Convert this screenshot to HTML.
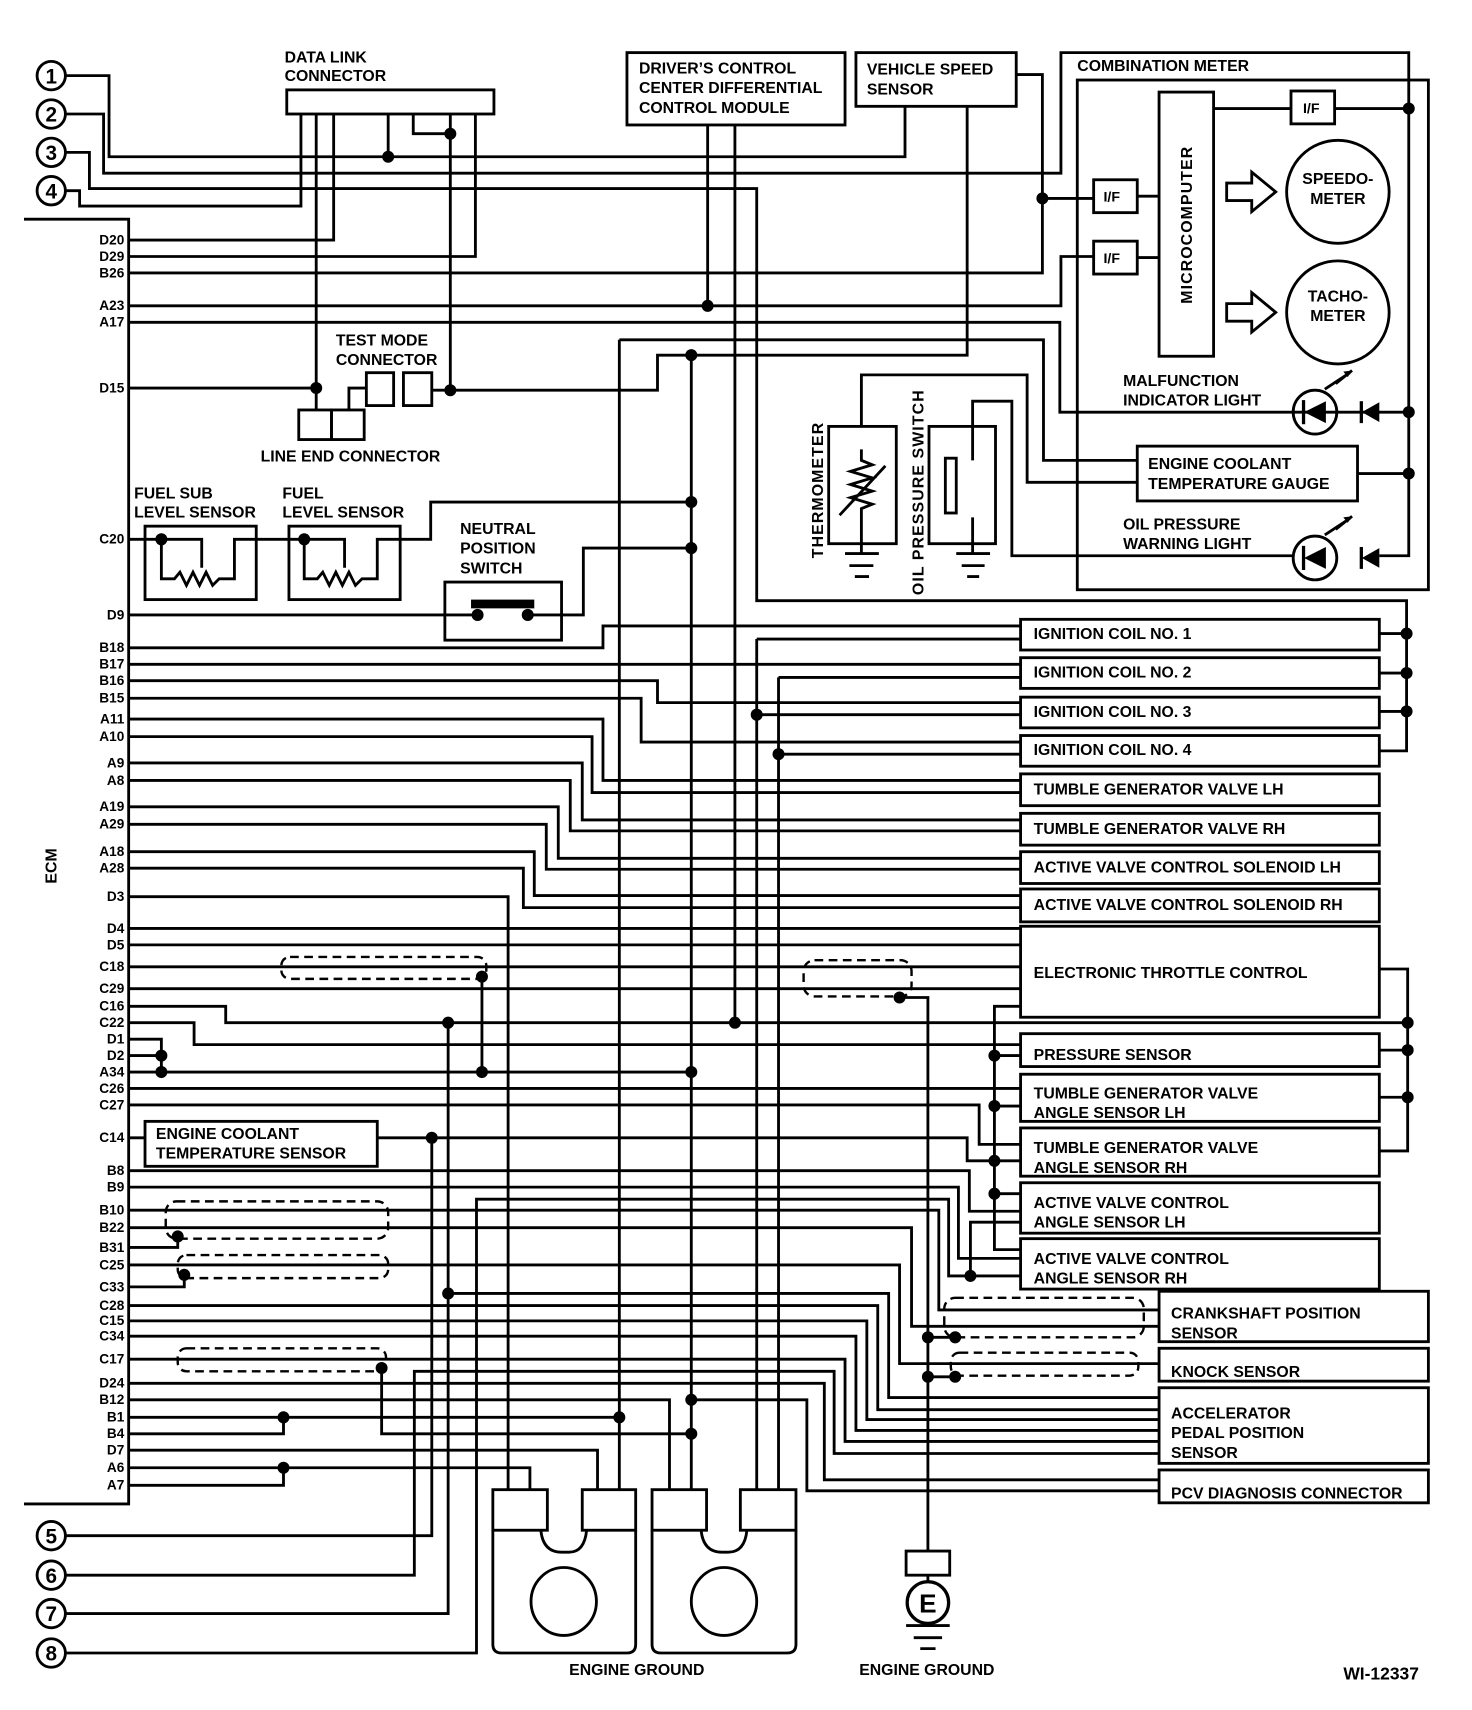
<!DOCTYPE html>
<html><head><meta charset="utf-8"><style>
html,body{margin:0;padding:0;background:#fff;}
svg{display:block;}
text{font-family:"Liberation Sans",Arial,sans-serif;font-weight:bold;fill:#000;}
</style></head><body>
<svg width="1472" height="1710" viewBox="0 0 1350 1560" preserveAspectRatio="none" xmlns="http://www.w3.org/2000/svg">
<rect width="1350" height="1560" fill="#fff"/>
<g fill="none" stroke="#000" stroke-width="2.6" stroke-linejoin="miter">
<path d="M22 200 H118 V1372 H22"/>
<path d="M60 69 H100 V143 H830 V97"/>
<path d="M60 104 H95 V158 H973 V48 H1292 V507 H1265"/>
<path d="M60 139 H82 V172 H694 V548 H1290 V685 H1265"/>
<path d="M60 174 H73 V188 H276 V104"/>
<rect x="263" y="82" width="190" height="22"/>
<path d="M118 219 H306 V104 M118 234 H436 V104 M290 104 V374 M356 104 V143 M379 104 V122 H413 M413 104 V356"/>
<path d="M118 249 H956 V68 H932 M956 181 H1003"/>
<path d="M118 279 H973 V234 H1003 M649 114 V279 M674 114 V933"/>
<path d="M118 294 H972 V376 H1292"/>
<path d="M118 354 H290 M413 356 H603 V324 H887 V97"/>
<rect x="336" y="340" width="25" height="30"/><rect x="370" y="340" width="26" height="30"/>
<path d="M396 356 H413 M336 354 H320 V374"/>
<rect x="274" y="374" width="30" height="27"/><rect x="304" y="374" width="30" height="27"/>
<rect x="575" y="48" width="200" height="66"/>
<rect x="785" y="48" width="147" height="49"/>
<rect x="988" y="73" width="322" height="465"/>
<rect x="1063" y="84" width="50" height="241"/>
<rect x="1184" y="83" width="40" height="30"/>
<rect x="1003" y="164" width="40" height="30"/>
<rect x="1003" y="220" width="40" height="30"/>
<path d="M1113 99 H1184 M1224 99 H1292 M1043 179 H1063 M1043 235 H1063"/>
<path d="M1125 167 H1148 V157 L1170 175 L1148 193 V183 H1125 Z M1125 277 H1148 V267 L1170 285 L1148 303 V293 H1125 Z"/>
<circle cx="1227" cy="175" r="47"/><circle cx="1227" cy="285" r="47"/>
<circle cx="1206" cy="376" r="20"/><circle cx="1206" cy="509" r="20"/>
<path d="M1215 355 L1238 340 M1225 350 L1240 338 M1215 488 L1238 473 M1225 483 L1240 471"/>
<rect x="1043" y="407" width="202" height="50"/>
<path d="M1245 432 H1292"/>
<rect x="760" y="389" width="62" height="107"/>
<rect x="852" y="389" width="61" height="107"/>
<path d="M790 389 V342 H942 V440 H1043 M790 496 V505 M775 505 H806 M779 516 H801 M784 526 H797"/>
<path d="M790 410 V420 L800 424 L780 430 L800 436 L780 442 L800 448 L780 454 L800 460 L790 464 V496 M770 470 L812 425"/>
<path d="M892 420 V366 H928 V507 H1186 M892 472 V505 M877 505 H908 M882 516 H903 M887 526 H898"/>
<rect x="867" y="418" width="10" height="50"/>
<path d="M568 310 H957 V420 H1043"/>
<rect x="133" y="480" width="102" height="67"/><rect x="265" y="480" width="102" height="67"/>
<path d="M118 492 H148 M148 492 H185 V518 M148 492 V528 H160 L165 522 L171 534 L177 522 L183 534 L189 522 L195 534 L201 528 H215 V492 H279 M279 492 H316 V518 M279 492 V528 H291 L296 522 L302 534 L308 522 L314 534 L320 522 L326 534 L332 528 H346 V492 H395 V458 H634"/>
<rect x="408" y="531" width="107" height="53"/>
<path d="M118 561 H438 M484 561 H535 V500 H634"/>
<path d="M568 310 V1359 M634 324 V1359 M694 583 V1359 M714 618 V1359"/>
<path d="M118 591 H553 V571 H936 M118 606 H936 M118 621 H603 V641 H936 M118 637 H588 V677 H936 M694 583 H936 M714 618 H936 M694 652 H936 M714 688 H936"/>
<path d="M118 656 H553 V712 H936 M118 672 H543 V723 H936 M118 696 H534 V748 H936 M118 712 H523 V758 H936 M118 736 H512 V783 H936 M118 752 H501 V793 H936 M118 777 H490 V817 H936 M118 792 H480 V828 H936"/>
<path d="M1265 578 H1290 M1265 614 H1290 M1265 649 H1290"/>
<path d="M118 818 H466 V1359 M118 847 H936 M118 862 H936 M118 882 H936 M118 902 H936"/>
<path d="M936 918 H912 V1140 H936 M912 963 H936 M912 1009 H936 M912 1059 H936 M912 1089 H936"/>
<path d="M1265 884 H1291 V1050 H1265 M1265 958 H1291 M1265 1001 H1291"/>
<path d="M118 918 H207 V933 H1291 M118 933 H178 V953 H936 M118 948 H148 V978 M118 963 H148 M118 978 H634 M442 891 V978"/>
<path d="M118 993 H936 M118 1008 H898 V1044 H936 M118 1038 H133 M346 1038 H887 V1059 H912 M396 1038 V1401 H60"/>
<path d="M118 1068 H889 V1105 H936 M118 1083 H879 V1148 H936 M60 1508 H437 V1094 H870 V1164 H936 M890 1164 V1115 H936"/>
<path d="M118 1104 H861 V1195 H1063 M118 1120 H836 V1210 H1063 M118 1138 H163 V1128 M118 1154 H825 V1244 H1063 M118 1174 H169 V1163"/>
<path d="M411 933 V1472 H60 M411 1180 H815 V1275 H1063 M118 1191 H805 V1286 H1063 M118 1205 H795 V1295 H1063 M118 1219 H785 V1305 H1063 M118 1240 H775 V1315 H1063"/>
<path d="M60 1437 H380 V1251 H765 V1326 H1063 M118 1262 H756 V1350 H1063 M118 1277 H614 V1359 M634 1277 H740 V1360 H1063"/>
<path d="M118 1293 H568 M118 1308 H260 V1293 M350 1248 V1308 H634 M118 1323 H548 V1359 M118 1339 H486 V1359 M118 1355 H260 V1339"/>
<path d="M825 910 H851 V1415 M851 1220 H876 M851 1256 H876"/>
<rect x="936" y="565" width="329" height="28"/><rect x="936" y="600" width="329" height="28"/>
<rect x="936" y="636" width="329" height="28"/><rect x="936" y="671" width="329" height="28"/>
<rect x="936" y="706" width="329" height="29"/><rect x="936" y="742" width="329" height="29"/>
<rect x="936" y="777" width="329" height="29"/><rect x="936" y="811" width="329" height="30"/>
<rect x="936" y="845" width="329" height="83"/><rect x="936" y="943" width="329" height="30"/>
<rect x="936" y="980" width="329" height="43"/><rect x="936" y="1029" width="329" height="44"/>
<rect x="936" y="1079" width="329" height="46"/><rect x="936" y="1130" width="329" height="46"/>
<rect x="1063" y="1178" width="247" height="46"/><rect x="1063" y="1230" width="247" height="30"/>
<rect x="1063" y="1266" width="247" height="69"/><rect x="1063" y="1341" width="247" height="30"/>
<rect x="133" y="1023" width="213" height="41"/>
<rect x="452" y="1359" width="50" height="37"/><rect x="534" y="1359" width="49" height="37"/>
<rect x="598" y="1359" width="50" height="37"/><rect x="679" y="1359" width="51" height="37"/>
<path d="M452 1396 V1500 Q452 1508 460 1508 H575 Q583 1508 583 1500 V1396 M496 1396 Q498 1416 515 1416 H522 Q536 1416 538 1396"/>
<path d="M598 1396 V1500 Q598 1508 606 1508 H722 Q730 1508 730 1500 V1396 M643 1396 Q645 1416 662 1416 H668 Q683 1416 685 1396"/>
<ellipse cx="517" cy="1461" rx="30" ry="31"/><ellipse cx="664" cy="1461" rx="30" ry="31"/>
<rect x="831" y="1415" width="40" height="22"/>
<circle cx="851" cy="1462" r="19" stroke-width="3"/>
<path d="M851 1437 V1443 M831 1483 H871 M838 1494 H864 M844 1504 H858"/>
<circle cx="47" cy="69" r="13"/><circle cx="47" cy="104" r="13"/><circle cx="47" cy="139" r="13"/><circle cx="47" cy="174" r="13"/>
<circle cx="47" cy="1401" r="13"/><circle cx="47" cy="1437" r="13"/><circle cx="47" cy="1472" r="13"/><circle cx="47" cy="1508" r="13"/>
</g>
<g fill="none" stroke="#000" stroke-width="2.2" stroke-dasharray="8 5">
<rect x="258" y="873" width="188" height="20" rx="8"/>
<rect x="737" y="876" width="99" height="33" rx="10"/>
<rect x="152" y="1096" width="204" height="34" rx="10"/>
<rect x="163" y="1145" width="193" height="21" rx="8"/>
<rect x="163" y="1230" width="191" height="21" rx="8"/>
<rect x="866" y="1184" width="183" height="36" rx="10"/>
<rect x="872" y="1234" width="172" height="21" rx="8"/>
</g>
<g fill="#000" stroke="none">
<path d="M1196 376 L1216 366 L1216 386 Z M1249 376 L1265 367 L1265 385 Z M1196 509 L1216 499 L1216 519 Z M1249 509 L1265 500 L1265 518 Z"/>
<rect x="1194" y="365" width="3" height="22"/><rect x="1247" y="366" width="3" height="20"/>
<rect x="1194" y="498" width="3" height="22"/><rect x="1247" y="499" width="3" height="20"/>
<rect x="432" y="547" width="58" height="8"/>
<path d="M1240 338 l-8 1 l4 5 Z M1240 471 l-8 1 l4 5 Z"/>
<circle cx="356" cy="143" r="5.5"/><circle cx="413" cy="122" r="5.5"/><circle cx="290" cy="354" r="5.5"/><circle cx="413" cy="356" r="5.5"/>
<circle cx="956" cy="181" r="5.5"/><circle cx="649" cy="279" r="5.5"/><circle cx="634" cy="324" r="5.5"/>
<circle cx="1292" cy="99" r="5.5"/><circle cx="1292" cy="376" r="5.5"/><circle cx="1292" cy="432" r="5.5"/>
<circle cx="148" cy="492" r="5.5"/><circle cx="279" cy="492" r="5.5"/><circle cx="634" cy="458" r="5.5"/><circle cx="634" cy="500" r="5.5"/>
<circle cx="438" cy="561" r="5.5"/><circle cx="484" cy="561" r="5.5"/>
<circle cx="1290" cy="578" r="5.5"/><circle cx="1290" cy="614" r="5.5"/><circle cx="1290" cy="649" r="5.5"/>
<circle cx="694" cy="652" r="5.5"/><circle cx="714" cy="688" r="5.5"/>
<circle cx="442" cy="891" r="5.5"/><circle cx="825" cy="910" r="5.5"/>
<circle cx="411" cy="933" r="5.5"/><circle cx="674" cy="933" r="5.5"/><circle cx="1291" cy="933" r="5.5"/>
<circle cx="1291" cy="958" r="5.5"/><circle cx="1291" cy="1001" r="5.5"/>
<circle cx="148" cy="963" r="5.5"/><circle cx="148" cy="978" r="5.5"/><circle cx="442" cy="978" r="5.5"/><circle cx="634" cy="978" r="5.5"/>
<circle cx="912" cy="963" r="5.5"/><circle cx="912" cy="1009" r="5.5"/><circle cx="912" cy="1059" r="5.5"/><circle cx="912" cy="1089" r="5.5"/>
<circle cx="396" cy="1038" r="5.5"/><circle cx="890" cy="1164" r="5.5"/>
<circle cx="163" cy="1128" r="5.5"/><circle cx="169" cy="1163" r="5.5"/><circle cx="411" cy="1180" r="5.5"/>
<circle cx="851" cy="1220" r="5.5"/><circle cx="876" cy="1220" r="5.5"/><circle cx="851" cy="1256" r="5.5"/><circle cx="876" cy="1256" r="5.5"/>
<circle cx="350" cy="1248" r="5.5"/><circle cx="634" cy="1277" r="5.5"/>
<circle cx="260" cy="1293" r="5.5"/><circle cx="568" cy="1293" r="5.5"/><circle cx="634" cy="1308" r="5.5"/><circle cx="260" cy="1339" r="5.5"/>
</g>
<g font-size="19" text-anchor="middle">
<text x="47" y="76">1</text><text x="47" y="111">2</text><text x="47" y="146">3</text><text x="47" y="181">4</text>
<text x="47" y="1408">5</text><text x="47" y="1444">6</text><text x="47" y="1479">7</text><text x="47" y="1515">8</text>
<text x="851" y="1471" font-size="24">E</text>
</g>
<g font-size="12.5" text-anchor="end">
<text x="114" y="223">D20</text><text x="114" y="238">D29</text><text x="114" y="253">B26</text><text x="114" y="283">A23</text><text x="114" y="298">A17</text>
<text x="114" y="358">D15</text><text x="114" y="496">C20</text><text x="114" y="565">D9</text>
<text x="114" y="595">B18</text><text x="114" y="610">B17</text><text x="114" y="625">B16</text><text x="114" y="641">B15</text>
<text x="114" y="660">A11</text><text x="114" y="676">A10</text><text x="114" y="700">A9</text><text x="114" y="716">A8</text>
<text x="114" y="740">A19</text><text x="114" y="756">A29</text><text x="114" y="781">A18</text><text x="114" y="796">A28</text>
<text x="114" y="822">D3</text><text x="114" y="851">D4</text><text x="114" y="866">D5</text><text x="114" y="886">C18</text>
<text x="114" y="906">C29</text><text x="114" y="922">C16</text><text x="114" y="937">C22</text><text x="114" y="952">D1</text>
<text x="114" y="967">D2</text><text x="114" y="982">A34</text><text x="114" y="997">C26</text><text x="114" y="1012">C27</text>
<text x="114" y="1042">C14</text><text x="114" y="1072">B8</text><text x="114" y="1087">B9</text><text x="114" y="1108">B10</text>
<text x="114" y="1124">B22</text><text x="114" y="1142">B31</text><text x="114" y="1158">C25</text><text x="114" y="1178">C33</text>
<text x="114" y="1195">C28</text><text x="114" y="1209">C15</text><text x="114" y="1223">C34</text><text x="114" y="1244">C17</text>
<text x="114" y="1266">D24</text><text x="114" y="1281">B12</text><text x="114" y="1297">B1</text><text x="114" y="1312">B4</text>
<text x="114" y="1327">D7</text><text x="114" y="1343">A6</text><text x="114" y="1359">A7</text>
</g>
<g font-size="14.5">
<text x="52" y="790" transform="rotate(-90 52 790)" text-anchor="middle">ECM</text>
<text x="261" y="57">DATA LINK</text><text x="261" y="74">CONNECTOR</text>
<text x="586" y="67">DRIVER’S CONTROL</text><text x="586" y="85">CENTER DIFFERENTIAL</text><text x="586" y="103">CONTROL MODULE</text>
<text x="795" y="68">VEHICLE SPEED</text><text x="795" y="86">SENSOR</text>
<text x="988" y="65">COMBINATION METER</text>
<text x="1195" y="103" font-size="13">I/F</text><text x="1012" y="184" font-size="13">I/F</text><text x="1012" y="240" font-size="13">I/F</text>
<text x="1093" y="205" transform="rotate(-90 1093 205)" text-anchor="middle" letter-spacing="1">MICROCOMPUTER</text>
<text x="1227" y="168" text-anchor="middle">SPEEDO-</text><text x="1227" y="186" text-anchor="middle">METER</text>
<text x="1227" y="275" text-anchor="middle">TACHO-</text><text x="1227" y="293" text-anchor="middle">METER</text>
<text x="1030" y="352">MALFUNCTION</text><text x="1030" y="370">INDICATOR LIGHT</text>
<text x="1053" y="428">ENGINE COOLANT</text><text x="1053" y="446">TEMPERATURE GAUGE</text>
<text x="1030" y="483">OIL PRESSURE</text><text x="1030" y="501">WARNING LIGHT</text>
<text x="755" y="447" transform="rotate(-90 755 447)" text-anchor="middle" letter-spacing="1">THERMOMETER</text>
<text x="847" y="449" transform="rotate(-90 847 449)" text-anchor="middle" letter-spacing="1">OIL PRESSURE SWITCH</text>
<text x="308" y="315">TEST MODE</text><text x="308" y="333">CONNECTOR</text>
<text x="239" y="421">LINE END CONNECTOR</text>
<text x="123" y="455">FUEL SUB</text><text x="123" y="472">LEVEL SENSOR</text>
<text x="259" y="455">FUEL</text><text x="259" y="472">LEVEL SENSOR</text>
<text x="422" y="487">NEUTRAL</text><text x="422" y="505">POSITION</text><text x="422" y="523">SWITCH</text>
<text x="948" y="583">IGNITION COIL NO. 1</text><text x="948" y="618">IGNITION COIL NO. 2</text>
<text x="948" y="654">IGNITION COIL NO. 3</text><text x="948" y="689">IGNITION COIL NO. 4</text>
<text x="948" y="725">TUMBLE GENERATOR VALVE LH</text><text x="948" y="761">TUMBLE GENERATOR VALVE RH</text>
<text x="948" y="796">ACTIVE VALVE CONTROL SOLENOID LH</text><text x="948" y="830">ACTIVE VALVE CONTROL SOLENOID RH</text>
<text x="948" y="892">ELECTRONIC THROTTLE CONTROL</text>
<text x="948" y="967">PRESSURE SENSOR</text>
<text x="948" y="1002">TUMBLE GENERATOR VALVE</text><text x="948" y="1020">ANGLE SENSOR LH</text>
<text x="948" y="1052">TUMBLE GENERATOR VALVE</text><text x="948" y="1070">ANGLE SENSOR RH</text>
<text x="948" y="1102">ACTIVE VALVE CONTROL</text><text x="948" y="1120">ANGLE SENSOR LH</text>
<text x="948" y="1153">ACTIVE VALVE CONTROL</text><text x="948" y="1171">ANGLE SENSOR RH</text>
<text x="1074" y="1203">CRANKSHAFT POSITION</text><text x="1074" y="1221">SENSOR</text>
<text x="1074" y="1256">KNOCK SENSOR</text>
<text x="1074" y="1294">ACCELERATOR</text><text x="1074" y="1312">PEDAL POSITION</text><text x="1074" y="1330">SENSOR</text>
<text x="1074" y="1367">PCV DIAGNOSIS CONNECTOR</text>
<text x="143" y="1039">ENGINE COOLANT</text><text x="143" y="1057">TEMPERATURE SENSOR</text>
<text x="522" y="1528">ENGINE GROUND</text><text x="788" y="1528">ENGINE GROUND</text>
<text x="1232" y="1532" font-size="16" font-weight="normal">WI-12337</text>
</g>
</svg>
</body></html>
